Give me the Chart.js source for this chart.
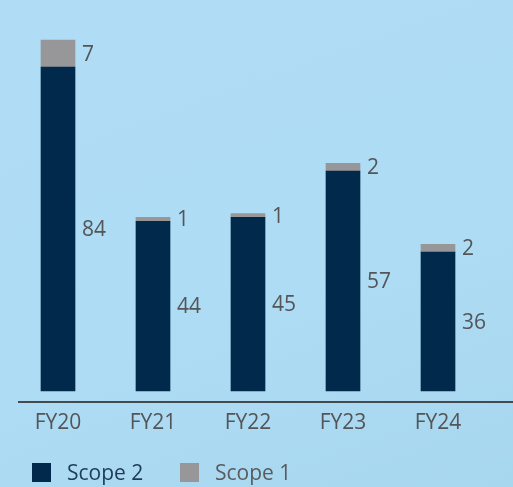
<!DOCTYPE html>
<html>
<head>
<meta charset="utf-8">
<script src="https://cdn.jsdelivr.net/npm/chart.js@4.4.1/dist/chart.umd.min.js"></script>
<style>
  html, body { margin: 0; padding: 0; }
  body {
    width: 513px; height: 487px; overflow: hidden;
    background: linear-gradient(160deg, #b0ddf5 0%, #aedcf4 60%, #a7d6ef 100%);
  }
  #wrap { position: relative; width: 513px; height: 487px; }
</style>
</head>
<body>
<div id="wrap"><canvas id="emisiones"></canvas></div>
<script>
  // Emisiones por año fiscal (alcances 1 y 2)
  var YEARS  = ['FY20', 'FY21', 'FY22', 'FY23', 'FY24'];
  var SCOPE2 = [84, 44, 45, 57, 36];
  var SCOPE1 = [7, 1, 1, 2, 2];

  var NAVY  = '#00294b';
  var GREY  = '#97979a';
  var TXT   = '#535557';
  var FONT  = "'Open Sans', sans-serif";

  // etiquetas de valor a la derecha de cada segmento
  var valueLabels = {
    id: 'valueLabels',
    afterDatasetsDraw: function (chart) {
      var ctx = chart.ctx;
      ctx.save();
      ctx.font = '21px ' + FONT;
      ctx.fillStyle = TXT;
      ctx.textAlign = 'left';
      ctx.textBaseline = 'middle';
      chart.data.datasets.forEach(function (ds, di) {
        var meta = chart.getDatasetMeta(di);
        meta.data.forEach(function (bar, i) {
          var midY = (bar.y + bar.base) / 2;
          ctx.fillText(String(ds.data[i]), bar.x + bar.width / 2 + 7, midY + 1);
        });
      });
      ctx.restore();
    }
  };

  // línea base y leyenda inferior
  var baseAndLegend = {
    id: 'baseAndLegend',
    afterDraw: function (chart) {
      var ctx = chart.ctx;
      var area = chart.chartArea;
      ctx.save();
      ctx.strokeStyle = '#444a4e';
      ctx.lineWidth = 2;
      ctx.beginPath();
      ctx.moveTo(area.left + 7.5, area.bottom);
      ctx.lineTo(chart.width, area.bottom);
      ctx.stroke();

      var items = [
        { ds: 0, x: 32, color: '#1d3a5a' },
        { ds: 1, x: 180, color: '#5a5b5d' }
      ];
      ctx.font = '21px ' + FONT;
      ctx.textBaseline = 'alphabetic';
      items.forEach(function (it) {
        var ds = chart.data.datasets[it.ds];
        ctx.fillStyle = ds.backgroundColor;
        ctx.fillRect(it.x, area.bottom + 61, 19, 19);
        ctx.fillStyle = it.color;
        ctx.fillText(ds.label, it.x + 35, area.bottom + 78);
      });
      ctx.restore();
    }
  };

  new Chart(document.getElementById('emisiones'), {
    type: 'bar',
    data: {
      labels: YEARS,
      datasets: [
        { label: 'Scope 2', data: SCOPE2, backgroundColor: NAVY, barThickness: 34 },
        { label: 'Scope 1', data: SCOPE1, backgroundColor: GREY, barThickness: 34 }
      ]
    },
    options: {
      responsive: true,
      maintainAspectRatio: false,
      animation: false,
      layout: { padding: { left: 10.5, right: 27.5, top: 24.6, bottom: 0 } },
      plugins: {
        legend: { display: false },
        tooltip: { enabled: false }
      },
      scales: {
        x: {
          stacked: true,
          grid: { display: false },
          border: { display: false },
          ticks: { font: { family: FONT, size: 21 }, color: TXT, padding: 0 },
          afterFit: function (s) { s.height = 85; }
        },
        y: {
          stacked: true,
          display: false,
          min: -2.85,
          max: 95
        }
      }
    },
    plugins: [valueLabels, baseAndLegend]
  });
</script>
</body>
</html>
